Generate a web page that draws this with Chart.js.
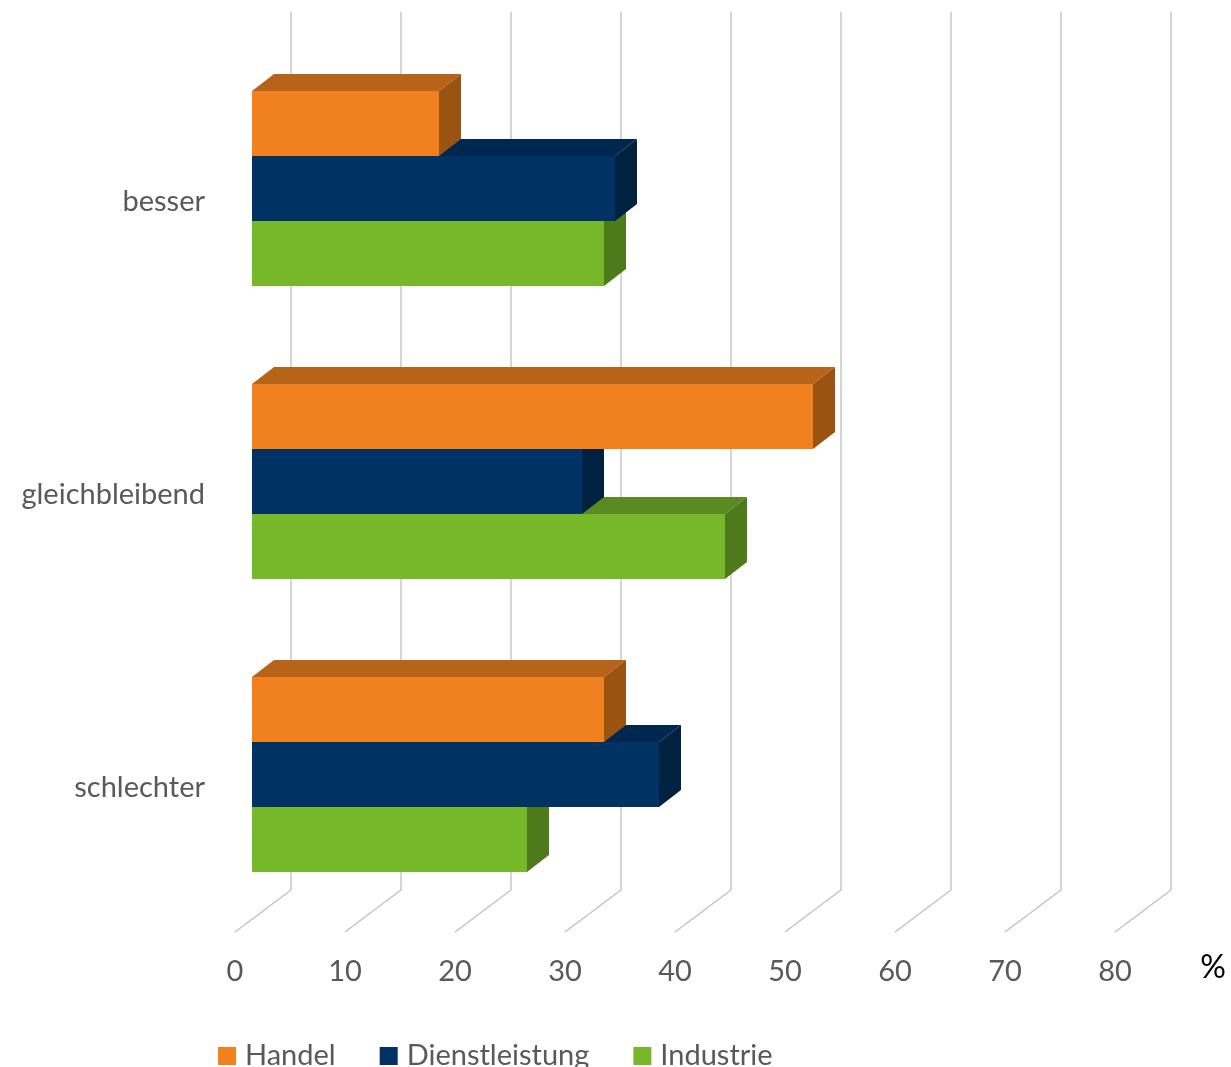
<!DOCTYPE html>
<html lang="de">
<head>
<meta charset="utf-8">
<title>Einschätzung</title>
<script src="https://cdn.jsdelivr.net/npm/chart.js@4.4.1/dist/chart.umd.min.js"></script>
<style>
  html, body { margin: 0; padding: 0; background: #fff; overflow: hidden; }
</style>
</head>
<body>
<canvas id="chart" width="1231" height="1067"></canvas>
<script>
// Daten
const kategorien = ["besser", "gleichbleibend", "schlechter"];
const handel = [17, 51, 32];
const dienstleistung = [33, 30, 37];
const industrie = [32, 43, 25];
const achsenWerte = [0, 10, 20, 30, 40, 50, 60, 70, 80];
const reihen = ["Handel", "Dienstleistung", "Industrie"];

// Farben: Vorderseite, Oberseite, Seite
const farben = [
  { front: "#F0811E", top: "#B8631A", side: "#9B5312" },
  { front: "#003263", top: "#00274F", side: "#002140" },
  { front: "#77B82A", top: "#5B8A22", side: "#4E7A1C" }
];

const schrift = { family: "Lato, 'Open Sans', sans-serif", size: 29 };
const TIEFE_X = 22, TIEFE_Y = -17; // 3D-Versatz der Balken

const effekt3d = {
  id: "effekt3d",
  beforeDatasetsDraw(chart) {
    const { ctx, chartArea, scales: { x } } = chart;
    ctx.save();
    ctx.strokeStyle = "#BFBFBF";
    ctx.lineWidth = 1.3;
    achsenWerte.forEach(v => {
      const px = x.getPixelForValue(v);
      ctx.beginPath();
      ctx.moveTo(px - 17, chartArea.bottom + 11);
      ctx.lineTo(px + 39, chartArea.bottom - 31);
      ctx.lineTo(px + 39, 12);
      ctx.stroke();
    });
    ctx.restore();
  },
  afterDatasetDraw(chart, args) {
    const ctx = chart.ctx;
    const f = farben[args.index];
    ctx.save();
    args.meta.data.forEach(bar => {
      const { x, y, base, height } = bar.getProps(["x", "y", "base", "height"], true);
      const oben = y - height / 2, unten = y + height / 2;
      // Oberseite
      ctx.fillStyle = f.top;
      ctx.beginPath();
      ctx.moveTo(base, oben);
      ctx.lineTo(base + TIEFE_X, oben + TIEFE_Y);
      ctx.lineTo(x + TIEFE_X, oben + TIEFE_Y);
      ctx.lineTo(x, oben);
      ctx.closePath();
      ctx.fill();
      // rechte Seite
      ctx.fillStyle = f.side;
      ctx.beginPath();
      ctx.moveTo(x, oben);
      ctx.lineTo(x + TIEFE_X, oben + TIEFE_Y);
      ctx.lineTo(x + TIEFE_X, unten + TIEFE_Y);
      ctx.lineTo(x, unten);
      ctx.closePath();
      ctx.fill();
    });
    ctx.restore();
  },
  afterDraw(chart) {
    const ctx = chart.ctx;
    ctx.save();
    // Einheit
    ctx.fillStyle = "#000";
    ctx.font = "32px " + schrift.family;
    ctx.textAlign = "center";
    ctx.textBaseline = "middle";
    ctx.fillText("%", 1213, 968);
    // Legende
    ctx.font = schrift.size + "px " + schrift.family;
    ctx.textAlign = "left";
    ctx.textBaseline = "alphabetic";
    let lx = 218;
    chart.data.datasets.forEach((ds, i) => {
      ctx.fillStyle = farben[i].front;
      ctx.fillRect(lx, 1047, 18, 18);
      ctx.fillStyle = "#595959";
      ctx.fillText(ds.label, lx + 27, 1065);
      lx += 27 + ctx.measureText(ds.label).width + 44;
    });
    ctx.restore();
  }
};

new Chart(document.getElementById("chart"), {
  type: "bar",
  data: {
    labels: kategorien,
    datasets: [
      { label: reihen[0], data: handel, backgroundColor: farben[0].front },
      { label: reihen[1], data: dienstleistung, backgroundColor: farben[1].front },
      { label: reihen[2], data: industrie, backgroundColor: farben[2].front }
    ]
  },
  options: {
    indexAxis: "y",
    responsive: false,
    animation: false,
    layout: { padding: { top: 42, right: 99, left: 0, bottom: 0 } },
    datasets: { bar: { categoryPercentage: 0.6655, barPercentage: 1 } },
    plugins: { legend: { display: false }, tooltip: { enabled: false } },
    scales: {
      x: {
        min: 0, max: 80,
        ticks: { stepSize: 10, labelOffset: -17, padding: 33, color: "#595959", font: schrift, maxRotation: 0, autoSkip: false },
        grid: { display: false, drawTicks: false },
        border: { display: false },
        afterFit: s => { s.height = 146; }
      },
      y: {
        ticks: { padding: 47, labelOffset: 13, color: "#595959", font: schrift },
        grid: { display: false, drawTicks: false },
        border: { display: false },
        afterFit: s => { s.width = 252; s.paddingTop = 0; s.paddingBottom = 0; }
      }
    }
  },
  plugins: [effekt3d]
});
</script>
</body>
</html>
